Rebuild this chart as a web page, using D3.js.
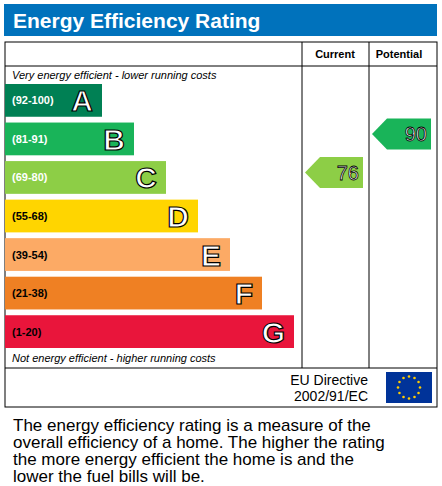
<!DOCTYPE html>
<html><head><meta charset="utf-8">
<script src="https://cdn.jsdelivr.net/npm/d3@7"></script>
<style>body{margin:0;background:#fff}</style></head>
<body><svg id="c" width="442" height="486"></svg>
<script>
const bands = ["A", "B", "C", "D", "E", "F", "G"];
const ranges = ["(92-100)", "(81-91)", "(69-80)", "(55-68)", "(39-54)", "(21-38)", "(1-20)"];
const bandColors = ["#008054", "#19b459", "#8dce46", "#ffd500", "#fcaa65", "#ef8023", "#e9153b"];
const bandLen = [1, 2, 3, 4, 5, 6, 7];
const current = 76, potential = 90;

const bandOf = v => v >= 92 ? 0 : v >= 81 ? 1 : v >= 69 ? 2 : v >= 55 ? 3 : v >= 39 ? 4 : v >= 21 ? 5 : 6;

const svg = d3.select('#c');
const F = 'Arial, "Liberation Sans", sans-serif';

svg.append('rect').attr('x', 4).attr('y', 4).attr('width', 433).attr('height', 32).attr('fill', '#0072bc');
svg.append('text').attr('x', 13).attr('y', 28).attr('fill', '#fff').attr('font-family', F)
    .attr('font-size', 21).attr('font-weight', 'bold').text('Energy Efficiency Rating');

const g = svg.append('g').attr('stroke', '#000').attr('fill', 'none');
g.append('rect').attr('x', 5).attr('y', 42).attr('width', 432).attr('height', 365);
[[5, 66, 437, 66], [5, 368, 437, 368], [302, 42, 302, 368], [369, 42, 369, 368]]
    .forEach(l => g.append('line').attr('x1', l[0]).attr('y1', l[1]).attr('x2', l[2]).attr('y2', l[3]));

svg.append('text').attr('x', 335).attr('y', 58).attr('text-anchor', 'middle').attr('font-family', F)
    .attr('font-size', 11).attr('font-weight', 'bold').text('Current');
svg.append('text').attr('x', 399).attr('y', 58).attr('text-anchor', 'middle').attr('font-family', F)
    .attr('font-size', 11).attr('font-weight', 'bold').text('Potential');
svg.append('text').attr('x', 12).attr('y', 79).attr('font-family', F).attr('font-size', 11)
    .attr('font-style', 'italic').text('Very energy efficient - lower running costs');
svg.append('text').attr('x', 12).attr('y', 362).attr('font-family', F).attr('font-size', 11)
    .attr('font-style', 'italic').text('Not energy efficient - higher running costs');

const y = d3.scaleBand().domain(bands).range([84, 348]).paddingInner(0.15).paddingOuter(0);
const w = d3.scaleLinear().domain([0, 7]).range([65, 289]);

const rows = svg.selectAll('.band').data(bands).enter().append('g').attr('class', 'band');
rows.append('rect').attr('x', 5).attr('y', d => y(d))
    .attr('width', (d, i) => w(bandLen[i])).attr('height', y.bandwidth())
    .attr('fill', (d, i) => bandColors[i]);
rows.append('text').attr('x', 12).attr('y', d => y(d) + y.bandwidth() / 2 + 4)
    .attr('font-family', F).attr('font-size', 11).attr('font-weight', 'bold')
    .attr('fill', (d, i) => i < 3 ? '#fff' : '#000').text((d, i) => ranges[i]);
rows.append('text').attr('x', (d, i) => 5 + w(bandLen[i]) - 9).attr('y', d => y(d) + y.bandwidth() / 2 + 11)
    .attr('text-anchor', 'end').attr('font-family', F).attr('font-size', 30).attr('font-weight', 'bold')
    .attr('fill', '#fff').attr('stroke', '#000').attr('stroke-width', 1.2).text(d => d);

function arrow(v, x0, x1) {
    const b = bandOf(v), yy = y(bands[b]) - 4, h = 31;
    svg.append('path')
        .attr('d', `M${x0},${yy + h / 2} L${x0 + 15},${yy} L${x1},${yy} L${x1},${yy + h} L${x0 + 15},${yy + h} Z`)
        .attr('fill', bandColors[b]);
    svg.append('text').attr('x', x1 - 4).attr('y', yy + h / 2 + 7).attr('text-anchor', 'end')
        .attr('font-family', F).attr('font-size', 20).attr('fill', '#fff').attr('stroke', '#000')
        .attr('stroke-width', 0.8).text(v);
}
arrow(current, 305, 363);
arrow(potential, 372, 431);

svg.append('text').attr('x', 368).attr('y', 385).attr('text-anchor', 'end').attr('font-family', F)
    .attr('font-size', 14).text('EU Directive');
svg.append('text').attr('x', 368).attr('y', 401).attr('text-anchor', 'end').attr('font-family', F)
    .attr('font-size', 14).text('2002/91/EC');
svg.append('rect').attr('x', 386).attr('y', 372).attr('width', 46).attr('height', 31).attr('fill', '#003399');
d3.range(12).forEach(i => {
    const a = i * Math.PI / 6;
    svg.append('circle').attr('cx', 409 + 11 * Math.sin(a)).attr('cy', 387.5 - 11 * Math.cos(a))
        .attr('r', 1.3).attr('fill', '#ffcc00');
});

const para = ['The energy efficiency rating is a measure of the', 'overall efficiency of a home. The higher the rating',
    'the more energy efficient the home is and the', 'lower the fuel bills will be.'];
svg.selectAll('.p').data(para).enter().append('text').attr('x', 13).attr('y', (d, i) => 431 + i * 17)
    .attr('font-family', F).attr('font-size', 17).text(d => d);
</script></body></html>
